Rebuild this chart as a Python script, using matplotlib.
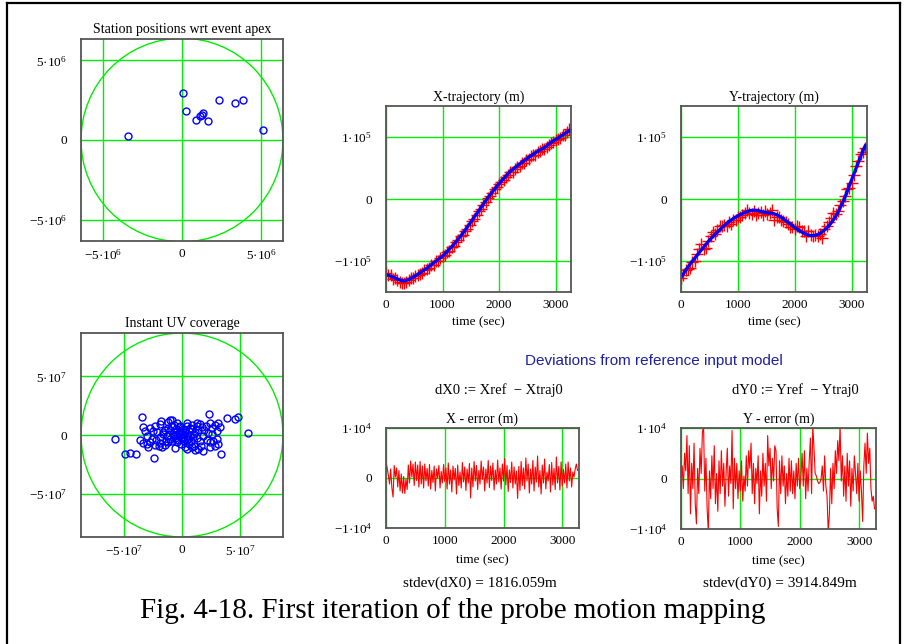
import numpy as np
import matplotlib
matplotlib.use('Agg')
import matplotlib.pyplot as plt
from matplotlib.patches import Circle

##########################################################################
# data

# station positions wrt event apex (m)
station_x = [0.08e6, 0.25e6, 0.9e6, 1.15e6, 1.24e6, 1.35e6, 1.62e6,
             2.35e6, 3.35e6, 3.85e6, 5.13e6, -3.44e6]
station_y = [2.95e6, 1.8e6, 1.25e6, 1.5e6, 1.56e6, 1.69e6, 1.2e6,
             2.5e6, 2.35e6, 2.54e6, 0.65e6, 0.28e6]

# instant UV coverage (units of 1e7)
uv_pts = [(-3.42, 1.52), (-1.81, 1.18), (-0.89, 1.29), (-1.18, 1.09), (-0.69, 0.89),
          (-0.23, 0.66), (-3.33, 0.72), (-2.76, 0.60), (-2.47, 0.37), (-2.18, 0.23),
          (-1.61, 0.23), (-1.47, 0.43), (-1.03, 0.43), (-0.80, 0.09), (-0.60, 0.23),
          (-0.40, 0.03), (-0.03, 0.09), (0.26, 0.23), (0.46, 0.80), (0.83, 0.89),
          (1.26, 0.80), (1.55, 0.95), (1.70, 0.66), (2.07, 0.80), (2.41, 1.01),
          (2.84, 0.86), (3.13, 1.01), (3.28, 0.72), (2.36, 1.75), (3.91, 1.47),
          (4.57, 1.38), (4.86, 1.52), (5.72, 0.17), (-5.78, -0.34), (-4.91, -1.64),
          (-4.48, -1.55), (-3.97, -1.64), (-2.41, -1.93), (-3.39, -0.72), (-3.05, -0.78),
          (-2.76, -0.63), (-2.33, -0.83), (-1.90, -0.72), (-1.47, -0.83), (-1.18, -0.63),
          (-0.89, -0.49), (-0.60, -0.26), (-0.32, -0.43), (0.11, -0.26), (0.40, -0.43),
          (0.63, -0.78), (0.83, -1.06), (1.12, -1.29), (1.41, -1.21), (1.84, -1.35),
          (0.69, -0.06), (0.98, -0.20), (1.26, -0.26), (1.55, -0.49), (2.13, -0.43),
          (2.41, -0.63), (2.70, -0.49), (2.99, -0.34), (3.13, -0.78), (3.33, -1.64),
          (1.84, -0.06), (2.56, 0.09), (-1.90, -0.20), (-1.32, -0.06), (-3.05, -0.06),
          (-1.2, 0.6), (-0.9, 0.75), (-0.5, 0.5), (-0.2, 0.35), (0.1, 0.55),
          (0.3, 0.4), (0.6, 0.3), (0.9, 0.5), (1.1, 0.25), (1.4, 0.45),
          (-0.7, -0.1), (-0.4, -0.6), (-0.1, -0.75), (0.2, -0.55), (0.5, -0.35),
          (0.8, -0.55), (1.0, -0.9), (-1.0, -0.3), (-1.4, -0.5), (-1.7, -1.0),
          (-2.0, -0.9), (-2.6, -0.35), (-2.9, -1.0), (-3.6, -0.45), (-3.2, 0.3),
          (-2.3, 0.75), (-1.9, 0.95), (-1.0, 1.3), (-0.4, 1.05), (0.4, 1.05),
          (0.7, 0.6), (1.3, 1.0), (1.9, 0.4), (2.2, 0.2), (2.6, 0.6),
          (3.0, 0.3), (-0.6, -1.1), (0.0, -0.35), (0.3, -1.05), (0.45, -1.2),
          (1.6, -0.9), (2.4, -1.0), (2.8, -0.9), (-2.2, -0.45), (-1.6, 0.05),
          (-0.3, 0.15), (0.15, 0.05), (0.05, -0.15), (-0.15, 0.8), (1.0, 0.1)]

# fitted trajectories, one value every 40 s (m)
x_traj = [-122000, -123000, -124500, -126000, -127500, -129000, -130500, -131800, -132000, -131200,
          -130000, -128200, -126000, -123800, -121500, -119000, -116600, -114200, -111800, -109000,
          -106000, -103200, -100400, -97600, -94800, -92000, -88400, -84800, -81000, -77000,
          -73000, -68600, -64200, -59600, -54800, -50000, -45000, -39800, -34400, -29200,
          -24000, -18800, -13600, -8400, -3200, 2000, 6800, 11600, 16200, 20800,
          25000, 29000, 33000, 37000, 41000, 45000, 47800, 50600, 53400, 56200,
          59000, 61800, 64600, 67200, 69600, 72000, 74400, 76800, 79000, 81000,
          83000, 85800, 88600, 91400, 93800, 96000, 98400, 100800, 103200, 105600,
          108000, 110500]
y_traj = [-126000, -121000, -115500, -110000, -105000, -100000, -95500, -91000, -86500, -82000,
          -77500, -73000, -68500, -64300, -60500, -57000, -53300, -49800, -46300, -42800,
          -39500, -36600, -34000, -31500, -29200, -27000, -25200, -23500, -21800, -20300,
          -19200, -18400, -18000, -18100, -18800, -19800, -20800, -21600, -22200, -22600,
          -23000, -24000, -25400, -27200, -29400, -32000, -34800, -37600, -40400, -43200,
          -46000, -48600, -51000, -53200, -55200, -57000, -58200, -58900, -59000, -58500,
          -57500, -55500, -53000, -50200, -47000, -43000, -38500, -33600, -28000, -21300,
          -14000, -6000, 2500, 11800, 21300, 31000, 40600, 50200, 59700, 69000,
          78000, 86000]

# deviations from reference, one value every 20 s (m)
x_err = [3200, 2000, 600, -1200, 1800, -2000, -3800, 2500, 200, 2000,
         -1800, 1500, -2600, 800, -3000, 300, -3100, -200, -2300, 2600,
         -1000, 3400, 200, 2800, -1500, 3200, -500, 2600, -1800, 3300,
         -1200, 2400, -2000, 2800, -600, 1900, -1600, 2700, -2200, 1500,
         -900, 2400, -2600, 1800, 0, 2500, -2000, 1300, -1000, 2700,
         -700, 2000, -2200, 3000, -1200, 1600, -2800, 2400, -400, 1900,
         -3200, 2600, -1500, 1200, -2000, 3100, -800, 2200, -2500, 1800,
         -1000, 2900, -4000, 2000, -1800, 3300, -600, 2500, -2300, 1500,
         -1200, 3400, -300, 2200, -2600, 1800, -1000, 3500, -1900, 2400,
         -500, 3000, -2400, 1600, -1200, 3600, -800, 2000, -2200, 2800,
         -600, 3900, -1400, 2500, -2700, 1600, -900, 3200, -2000, 2200,
         -1200, 1400, -4100, 2300, -2500, 3300, -1500, 2000, -2200, 4000,
         -600, 2800, -3000, 1800, -1200, 3500, -2600, 2200, -800, 4400,
         -1800, 1500, -3200, 2600, -1000, 3800, -2200, 1200, -600, 2700,
         -2800, 3100, -1400, 1900, -2300, 4200, -1000, 2300, -2400, 3200,
         -1600, 1700, -1000, 2800, -2000, 3200, -600, 2000, -1800, 1200,
         200, 1800, 2800, 1500]
y_err = [-1000, 2500, -2000, 5000, 1500, 8500, -3000, 6500, -7000, 3000,
         -2000, 7000, -5000, -9000, 2000, -3000, 6000, 1000, 9000, 10500,
         -2500, 4000, -6000, -10500, 1500, -4000, 4500, -2000, 6500, -5000,
         1000, -6500, 3500, -3000, 5500, -1500, 3000, -5500, 1000, 6000,
         -3500, 2500, -1000, 9500, -6000, 4000, -2000, 3000, -4000, 1500,
         -2500, 3500, -4500, 500, -2500, 4500, -1500, 5500, 2000, 7000,
         -3000, 3000, -5000, 2000, -1000, 4500, -7000, 1500, -3500, 5000,
         -1500, 3000, -4500, 8500, 2500, 6000, -2000, 4000, -500, 6500,
         5500, -6000, -9500, 3500, -3000, 4500, -1500, 2500, -5000, 1000,
         -3500, 4000, -2500, 3500, -3000, 1500, -4000, 3000, -1500, 4000,
         -2000, 500, 5000, -1500, 5500, -4000, 2000, -2500, 3500, 8000,
         -3000, 10500, 6000, 1000, 500, -500, -1000, -800, 0, 2500,
         -2500, 4500, -1500, -3500, -10500, -7000, 2000, -5000, 3000, -2000,
         5500, 1000, 7500, 3500, 10500, -500, 4500, -3500, 2500, -4500,
         5000, -1500, 3500, -5500, 2000, -2500, 4500, 1000, -3000, 3000,
         -4500, 1500, -2500, -8500, 2500, 7000, 1000, 9000, 3000, 6000,
         -2000, -4500, -3500, -6000]

time_ticks = [0, 1000, 2000, 3000]
time_labels = ['0', '1000', '2000', '3000']

##########################################################################
plt.rcParams['font.family'] = ['Liberation Serif', 'DejaVu Serif']
plt.rcParams['mathtext.fontset'] = 'custom'
plt.rcParams['mathtext.rm'] = 'Liberation Serif'
plt.rcParams['mathtext.it'] = 'Liberation Serif:italic'
plt.rcParams['font.size'] = 9

W, H = 909.0, 644.0
fig = plt.figure(figsize=(W / 100, H / 100), dpi=100)

def add_ax(x0, y0, x1, y1):
    # pixel box (from top left) -> figure axes
    return fig.add_axes([x0 / W, 1 - y1 / H, (x1 - x0) / W, (y1 - y0) / H])

def sci(m, e):
    # Mathcad style label, e.g. 5·10^6
    return '%s\u00b710$^{%d}$' % (m, e)

def style(ax, xlim, ylim, xt, xl, yt, yl, title, xlabel=None, lpad=4):
    ax.set_xlim(xlim)
    ax.set_ylim(ylim)
    ax.set_xticks(xt)
    ax.set_xticklabels(xl)
    ax.set_yticks(yt)
    ax.set_yticklabels(yl)
    ax.grid(True, color='#00ee00', lw=1.0)
    ax.tick_params(length=0, labelsize=9.5, pad=10)
    ax.tick_params(axis='x', pad=5)
    for s in ax.spines.values():
        s.set_color('#555555')
        s.set_linewidth(1.3)
    ax.set_title(title, fontsize=10, pad=4)
    if xlabel:
        ax.set_xlabel(xlabel, fontsize=9.5, labelpad=lpad)

green = '#00ee00'
blue = '#0000ff'

### station positions
ax1 = add_ax(81, 39, 283, 241)
ax1.add_patch(Circle((0, 0), 6.4e6, fill=False, ec=green, lw=1.0))
ax1.plot(station_x, station_y, 'o', mfc='none', mec=blue, ms=5, mew=1.0)
style(ax1, (-6.4e6, 6.4e6), (-6.35e6, 6.35e6),
      [-5e6, 0, 5e6], [sci('\u22125', 6), '0', sci('5', 6)],
      [-5e6, 0, 5e6], [sci('\u22125', 6), '0', sci('5', 6)],
      'Station positions wrt event apex')

### UV coverage
uv = np.array(uv_pts) * 1e7
ax2 = add_ax(81, 333, 283, 537)
ax2.add_patch(Circle((0, 0), 8.7e7, fill=False, ec=green, lw=1.0))
ax2.plot(uv[:, 0], uv[:, 1], 'o', mfc='none', mec=blue, ms=5, mew=1.0)
style(ax2, (-8.7e7, 8.7e7), (-8.7e7, 8.7e7),
      [-5e7, 0, 5e7], [sci('\u22125', 7), '0', sci('5', 7)],
      [-5e7, 0, 5e7], [sci('\u22125', 7), '0', sci('5', 7)],
      'Instant UV coverage')

### trajectories
t_traj = np.arange(len(x_traj)) * 40
xe = np.array(x_err)
ye = np.array(y_err)
x_ref = np.array(x_traj) + xe[::2][:len(x_traj)]
y_ref = np.array(y_traj) + ye[::2][:len(y_traj)]

ax3 = add_ax(386, 106, 571, 292)
ax3.plot(t_traj, x_ref, '+', color='red', ms=8, mew=1.0)
ax3.plot(t_traj, x_traj, '-', color=blue, lw=2.3)
style(ax3, (0, 3270), (-1.5e5, 1.5e5), time_ticks, time_labels,
      [-1e5, 0, 1e5], [sci('\u22121', 5), '0', sci('1', 5)],
      'X-trajectory (m)', 'time (sec)')

ax4 = add_ax(681, 106, 867, 292)
ax4.plot(t_traj, y_ref, '+', color='red', ms=8, mew=1.0)
ax4.plot(t_traj, y_traj, '-', color=blue, lw=2.3)
style(ax4, (0, 3270), (-1.5e5, 1.5e5), time_ticks, time_labels,
      [-1e5, 0, 1e5], [sci('\u22121', 5), '0', sci('1', 5)],
      'Y-trajectory (m)', 'time (sec)')

### errors
t_err = np.arange(len(x_err)) * 20
ax5 = add_ax(386, 428, 579, 528)
ax5.plot(t_err, x_err, '-', color='red', lw=0.8)
style(ax5, (0, 3285), (-1e4, 1e4), time_ticks, time_labels,
      [-1e4, 0, 1e4], [sci('\u22121', 4), '0', sci('1', 4)],
      'X - error (m)', 'time (sec)', lpad=5)

t_err2 = np.arange(len(y_err)) * 20
ax6 = add_ax(681, 428, 876, 529)
ax6.plot(t_err2, y_err, '-', color='red', lw=0.8)
style(ax6, (0, 3285), (-1e4, 1e4), time_ticks, time_labels,
      [-1e4, 0, 1e4], [sci('\u22121', 4), '0', sci('1', 4)],
      'Y - error (m)', 'time (sec)', lpad=5)

### texts
def ftext(x, y, s, **kw):
    fig.text(x / W, 1 - y / H, s, ha='center', va='center', **kw)

ftext(654, 361, 'Deviations from reference input model', color='#1f1f9f',
      fontsize=11, family=['Liberation Sans', 'DejaVu Sans'])
ftext(499, 390, 'dX0 := Xref  \u2212 Xtraj0', fontsize=10.5)
ftext(795, 390, 'dY0 := Yref  \u2212 Ytraj0', fontsize=10.5)
ftext(480, 583, 'stdev(dX0) = 1816.059m', fontsize=11)
ftext(780, 583, 'stdev(dY0) = 3914.849m', fontsize=11)
ftext(453, 611, 'Fig. 4-18. First iteration of the probe motion mapping', fontsize=21)

### outer frame
fig.add_artist(plt.Line2D([7 / W, 7 / W], [0, 1 - 3 / H], color='black', lw=1.6))
fig.add_artist(plt.Line2D([7 / W, 900 / W], [1 - 3 / H, 1 - 3 / H], color='black', lw=1.6))
fig.add_artist(plt.Line2D([900 / W, 900 / W], [0, 1 - 3 / H], color='black', lw=1.6))

fig.savefig('out.png', dpi=100)
